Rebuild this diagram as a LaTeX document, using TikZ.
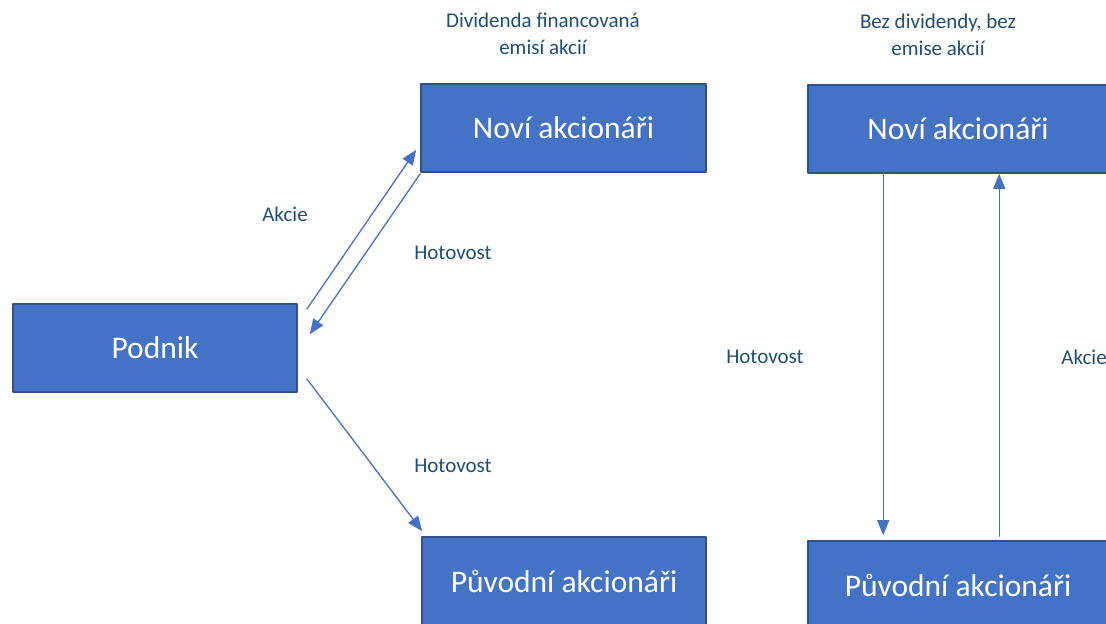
\documentclass[tikz,border=0pt]{standalone}
\usepackage{fontspec}
\setmainfont{Carlito}
\usetikzlibrary{arrows.meta}
\definecolor{boxblue}{HTML}{4472C4}
\definecolor{boxedge}{HTML}{2F528F}
\definecolor{txtblue}{HTML}{1F4E79}
\begin{document}
\begin{tikzpicture}[line cap=round,line join=round,x=0.5pt,y=-0.5pt,
		box/.style={draw=boxedge,line width=0.8pt,fill=boxblue,text=white,minimum height=44pt,inner sep=0pt,font=\fontsize{15.75}{18}\selectfont},
		lbl/.style={text=txtblue,align=center,inner sep=0pt,font=\fontsize{10.5}{13.5}\selectfont},
		arr/.style={draw=boxblue,line width=0.65pt,-{Triangle[length=7.5pt,width=6pt]}}]
			\useasboundingbox (0,0) rectangle (1106,624);
			\begin{scope}
				\clip (0,0) rectangle (1106,624);
				\node[box,minimum width=142pt] (podnik) at (155,348) {Podnik};
				\node[box,minimum width=142.5pt] (noviL) at (563.5,128) {Noví akcionáři};
				\node[box,minimum width=142pt] (puvL) at (564,581) {Původní akcionáři};
				\node[box,minimum width=150pt] (noviR) at (958,129) {Noví akcionáři};
				\node[box,minimum width=150pt] (puvR) at (958,585) {Původní akcionáři};
				\draw[arr] ([xshift=4.5pt,yshift=-3pt]podnik.north east) -- ([xshift=-2pt,yshift=11.5pt]noviL.south west);
				\draw[arr] ([yshift=-0.5pt]noviL.south west) -- ([xshift=6pt,yshift=-15.5pt]podnik.north east);
				\draw[arr] ([xshift=4.5pt,yshift=7pt]podnik.south east) -- ([xshift=0.5pt,yshift=2.5pt]puvL.north west);
				\draw[arr] ([xshift=38pt]noviR.south west) -- ([xshift=38pt,yshift=2.5pt]puvR.north west);
				\draw[arr] ([xshift=96pt,yshift=2pt]puvR.north west) -- ([xshift=96pt]noviR.south west);
				\node[lbl] (akcieL) at (285,214) {Akcie};
				\node[lbl] (hotA) at (453,253) {Hotovost};
				\node[lbl] (hotB) at (453,466) {Hotovost};
				\node[lbl] (hotC) at (765,357) {Hotovost};
				\node[lbl] (akcieR) at (1084,357) {Akcie};
				\node[lbl] (titleL) at (543,34) {Dividenda financovaná\\emisí akcií};
				\node[lbl] (titleR) at (938,35) {Bez dividendy, bez\\emise akcií};
			\end{scope}
		\end{tikzpicture}
\end{document}
